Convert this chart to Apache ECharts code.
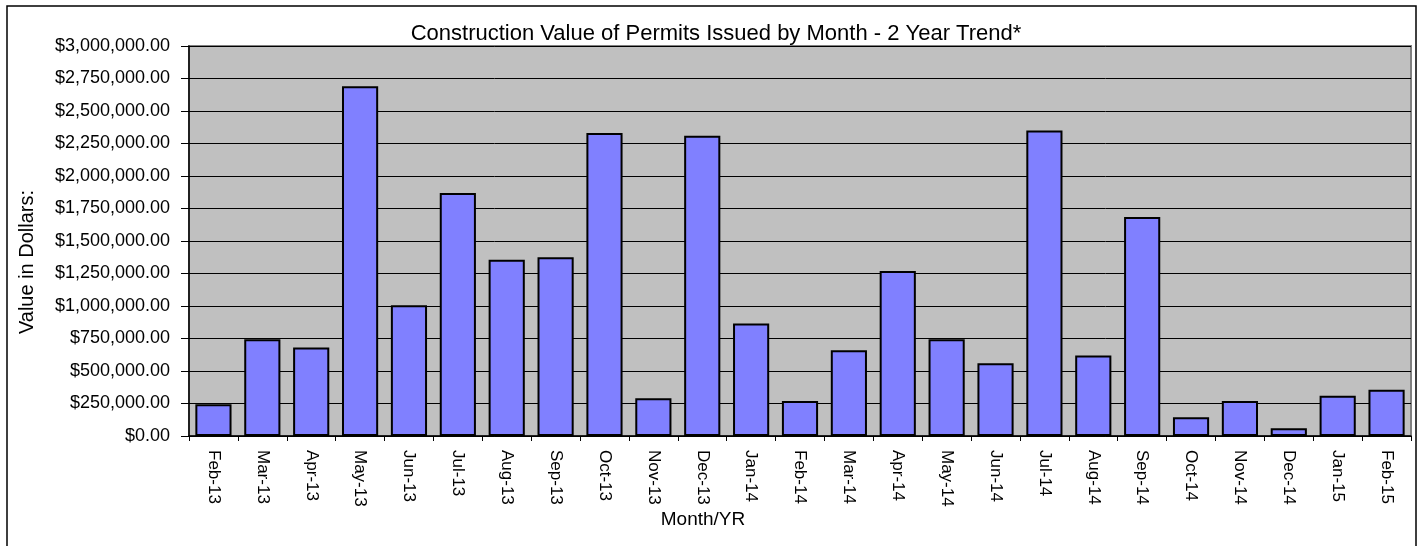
<!DOCTYPE html>
<html>
<head>
<meta charset="utf-8">
<title>Construction Value of Permits</title>
<script src="https://cdn.jsdelivr.net/npm/echarts@6/dist/echarts.min.js"></script>
<style>
  html, body { margin: 0; padding: 0; background: #fff; }
  #permitChart { width: 1419px; height: 546px; }
</style>
</head>
<body>
<div id="permitChart"></div>
<script>
// months shown on the x axis
var months = ['Feb-13', 'Mar-13', 'Apr-13', 'May-13', 'Jun-13', 'Jul-13', 'Aug-13', 'Sep-13',
  'Oct-13', 'Nov-13', 'Dec-13', 'Jan-14', 'Feb-14', 'Mar-14', 'Apr-14', 'May-14', 'Jun-14',
  'Jul-14', 'Aug-14', 'Sep-14', 'Oct-14', 'Nov-14', 'Dec-14', 'Jan-15', 'Feb-15'];

// construction value per month
var permitValues = [245000, 745000, 680000, 2690000, 1005000, 1870000, 1355000, 1375000,
  2330000, 290000, 2310000, 865000, 270000, 660000, 1270000, 745000, 560000,
  2350000, 620000, 1685000, 145000, 270000, 60000, 310000, 355000];

var yMin = 0;
var yMax = 3000000;
var yStep = 250000;

var fontName = '"Liberation Sans Narrow", "Arial Narrow", "Liberation Sans", Arial, sans-serif';

function money(v) {
    // $1,250,000.00 style
    var s = String(Math.round(v));
    s = s.replace(/\B(?=(\d{3})+(?!\d))/g, ',');
    return '$' + s + '.00';
}

function showPermitBars() {
    var permitOption = {
        animation: false,
        backgroundColor: '#ffffff',
        title: {
            text: 'Construction Value of Permits Issued by Month - 2 Year Trend*',
            left: 711,
            textAlign: 'center',
            top: 18,
            textStyle: {
                fontFamily: fontName,
                fontWeight: 'normal',
                fontSize: 22,
                color: '#000'
            }
        },
        graphic: [
            {
                // outer frame of the chart
                type: 'rect',
                shape: { x: 7, y: 6, width: 1409, height: 580 },
                style: { fill: 'none', stroke: '#000', lineWidth: 1.5 },
                z: 100
            },
            {
                type: 'text',
                x: 27,
                y: 262,
                rotation: Math.PI / 2,
                style: {
                    text: 'Value in Dollars:',
                    fontFamily: fontName,
                    fontSize: 20,
                    fill: '#000',
                    align: 'center',
                    verticalAlign: 'middle'
                }
            },
            {
                type: 'text',
                x: 703,
                y: 520,
                style: {
                    text: 'Month/YR',
                    fontFamily: fontName,
                    fontSize: 19,
                    fill: '#000',
                    align: 'center',
                    verticalAlign: 'middle'
                }
            }
        ],
        grid: {
            left: 189,
            right: 8,
            top: 46,
            bottom: 110,
            show: true,
            backgroundColor: '#c0c0c0',
            borderColor: '#808080',
            borderWidth: 2
        },
        xAxis: {
            type: 'category',
            data: months,
            boundaryGap: true,
            axisLine: { lineStyle: { color: '#000', width: 1.5 } },
            axisTick: { show: true, alignWithLabel: false, length: 5, lineStyle: { color: '#000' } },
            axisLabel: {
                interval: 0,
                rotate: -90,
                margin: 14,
                fontFamily: fontName,
                fontSize: 17,
                color: '#000'
            },
            splitLine: { show: false }
        },
        yAxis: {
            type: 'value',
            min: yMin,
            max: yMax,
            interval: yStep,
            axisLine: { show: true, lineStyle: { color: '#000', width: 1.5 } },
            axisTick: { show: true, length: 8, lineStyle: { color: '#000' } },
            axisLabel: {
                margin: 19,
                fontFamily: fontName,
                fontSize: 18,
                color: '#000',
                formatter: money
            },
            splitLine: { show: true, lineStyle: { color: '#000', width: 1 } }
        },
        series: [
            {
                name: 'Construction Value',
                type: 'bar',
                data: permitValues,
                barCategoryGap: '26%',
                itemStyle: {
                    color: '#8080ff',
                    borderColor: '#000',
                    borderWidth: 2
                }
            }
        ]
    };
    var myChart = echarts.init(document.getElementById('permitChart'));
    myChart.setOption(permitOption);
    return permitOption;
}

showPermitBars();
</script>
</body>
</html>
